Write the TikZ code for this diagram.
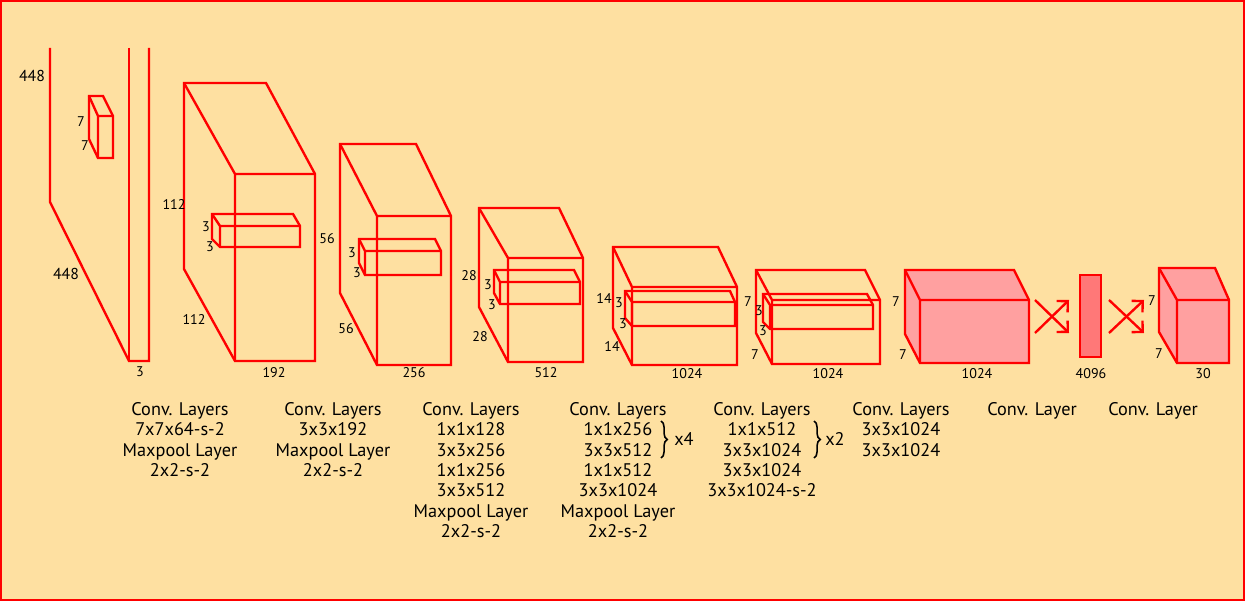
\documentclass[tikz,border=0pt]{standalone}
\usepackage{fontspec}
\setmainfont{PT Sans}
\usetikzlibrary{arrows.meta, decorations.pathreplacing}
\definecolor{paper}{RGB}{254,224,161}
\definecolor{slabpink}{RGB}{255,160,160}
\definecolor{fcpink}{RGB}{255,120,120}

\tikzset{
  layer/.style={draw=red, line width=1.35pt},
  dimlabel/.style={font=\fontsize{8}{9}\selectfont, inner sep=0pt},
  caption/.style={font=\fontsize{10.4}{11.6}\selectfont, align=center, inner sep=0pt, anchor=north},
  cross/.style={red, line width=1.35pt, -{Straight Barb[length=4.5pt,width=9pt]}},
  repbrace/.style={decorate, decoration={brace, amplitude=3.5pt}, line width=0.9pt}
}

% back-left x, back top y, back-right x, back-left bottom y,
% front-left x, front top y, front-right x, front bottom y
\newcommand{\cuboid}[9][]{%
  \draw[layer,#1] (#2,#3) -- (#4,#3) -- (#8,#7) -- (#8,#9) -- (#6,#9) -- (#2,#5) -- cycle;
  \draw[layer] (#2,#3) -- (#6,#7) -- (#8,#7) (#6,#7) -- (#6,#9);
}

\begin{document}
\begin{tikzpicture}[x=0.02cm, y=-0.02cm]
  \useasboundingbox (0,0) rectangle (1245,601);
  \fill[paper] (0,0) rectangle (1245,601);
  \draw[red, line width=1.2pt] (1,1) rectangle (1244,600);

  % input image
  \draw[layer] (50,48) -- (50,202) -- (129,361) -- (149,361) -- (149,48);
  \draw[layer] (129,48) -- (129,361);
  \cuboid{89}{96}{103}{139}{98}{116}{113}{158}
  \node[dimlabel, font=\fontsize{9}{10}\selectfont] (in-h) at (32,76) {448};
  \node[dimlabel, font=\fontsize{9}{10}\selectfont] (in-w) at (66,274) {448};
  \node[dimlabel] (in-c) at (140,372) {3};
  \node[dimlabel] (k1-h) at (81,122) {7};
  \node[dimlabel] (k1-w) at (85,146) {7};

  % 112 x 112 x 192
  \cuboid{184}{83}{266}{269}{235}{174}{315}{361}
  \cuboid{212}{214}{293}{239}{220}{226}{300}{247}
  \node[dimlabel] (b2-h) at (174,204) {112};
  \node[dimlabel] (b2-w) at (194,319) {112};
  \node[dimlabel] (b2-c) at (274,373) {192};
  \node[dimlabel] (k2-h) at (206,227) {3};
  \node[dimlabel] (k2-w) at (210,247) {3};

  % 56 x 56 x 256
  \cuboid{340}{144}{416}{293}{377}{216}{451}{365}
  \cuboid{359}{239}{435}{263}{365}{251}{441}{275}
  \node[dimlabel] (b3-h) at (327,239) {56};
  \node[dimlabel] (b3-w) at (346,329) {56};
  \node[dimlabel] (b3-c) at (414,373) {256};
  \node[dimlabel] (k3-h) at (352,253) {3};
  \node[dimlabel] (k3-w) at (357,273) {3};

  % 28 x 28 x 512
  \cuboid{479}{208}{559}{307}{508}{258}{583}{362}
  \cuboid{494}{270}{574}{293}{500}{282}{580}{304}
  \node[dimlabel] (b4-h) at (469,276) {28};
  \node[dimlabel] (b4-w) at (480,337) {28};
  \node[dimlabel] (b4-c) at (546,373) {512};
  \node[dimlabel] (k4-h) at (488,285) {3};
  \node[dimlabel] (k4-w) at (492,305) {3};

  % 14 x 14 x 1024
  \cuboid{613}{247}{718}{328}{632}{287}{737}{365}
  \cuboid{625}{291}{730}{318}{632}{302}{735}{326}
  \node[dimlabel] (b5-h) at (604,298) {14};
  \node[dimlabel] (b5-w) at (612,346) {14};
  \node[dimlabel] (b5-c) at (687,374) {1024};
  \node[dimlabel] (k5-h) at (619,303) {3};
  \node[dimlabel] (k5-w) at (623,324) {3};

  % 7 x 7 x 1024
  \cuboid{756}{270}{865}{333}{772}{300}{880}{364}
  \cuboid{763}{294}{867}{322}{770}{305}{873}{329}
  \node[dimlabel] (b6-h) at (748,302) {7};
  \node[dimlabel] (b6-w) at (755,355) {7};
  \node[dimlabel] (b6-c) at (828,374) {1024};
  \node[dimlabel] (k6-h) at (759,311) {3};
  \node[dimlabel] (k6-w) at (763,331) {3};

  % 7 x 7 x 1024, filled
  \cuboid[fill=slabpink]{905}{270}{1014}{334}{920}{300}{1029}{363}
  \node[dimlabel] (b7-h) at (896,302) {7};
  \node[dimlabel] (b7-w) at (903,355) {7};
  \node[dimlabel] (b7-c) at (977,374) {1024};

  % fully connected
  \draw[layer, fill=fcpink] (1080,275) rectangle (1101,357);
  \node[dimlabel] (fc-n) at (1091,374) {4096};

  % output 7 x 7 x 30
  \cuboid[fill=slabpink]{1159}{268}{1215}{332}{1177}{300}{1229}{363}
  \node[dimlabel] (out-h) at (1152,301) {7};
  \node[dimlabel] (out-w) at (1159,354) {7};
  \node[dimlabel] (out-c) at (1203,374) {30};

  % full connections
  \coordinate (xa-tl) at (1035,300);
  \coordinate (xa-bl) at (1035,333);
  \coordinate (xa-tr) at (1069,300);
  \coordinate (xa-br) at (1069,333);
  \draw[cross] (xa-tl) -- (xa-br);
  \draw[cross] (xa-bl) -- (xa-tr);
  \coordinate (xb-tl) at (1109,300);
  \coordinate (xb-bl) at (1109,333);
  \coordinate (xb-tr) at (1144,300);
  \coordinate (xb-br) at (1144,333);
  \draw[cross] (xb-tl) -- (xb-br);
  \draw[cross] (xb-bl) -- (xb-tr);

  % layer descriptions
  \node[caption] (cap1) at (180,402) {Conv. Layers\\7x7x64-s-2\\Maxpool Layer\\2x2-s-2};
  \node[caption] (cap2) at (333,402) {Conv. Layers\\3x3x192\\Maxpool Layer\\2x2-s-2};
  \node[caption] (cap3) at (471,402) {Conv. Layers\\1x1x128\\3x3x256\\1x1x256\\3x3x512\\Maxpool Layer\\2x2-s-2};
  \node[caption] (cap4) at (618,402) {Conv. Layers\\1x1x256\\3x3x512\\1x1x512\\3x3x1024\\Maxpool Layer\\2x2-s-2};
  \node[caption] (cap5) at (762,402) {Conv. Layers\\1x1x512\\3x3x1024\\3x3x1024\\3x3x1024-s-2};
  \node[caption] (cap6) at (901,402) {Conv. Layers\\3x3x1024\\3x3x1024};
  \node[caption] (cap7) at (1032,402) {Conv. Layer};
  \node[caption] (cap8) at (1153,402) {Conv. Layer};

  \draw[repbrace] (661,421) -- (661,458);
  \node[caption, anchor=center] (rep4) at (684,439) {x4};
  \draw[repbrace] (814,421) -- (814,458);
  \node[caption, anchor=center] (rep2) at (835,439) {x2};
\end{tikzpicture}
\end{document}
